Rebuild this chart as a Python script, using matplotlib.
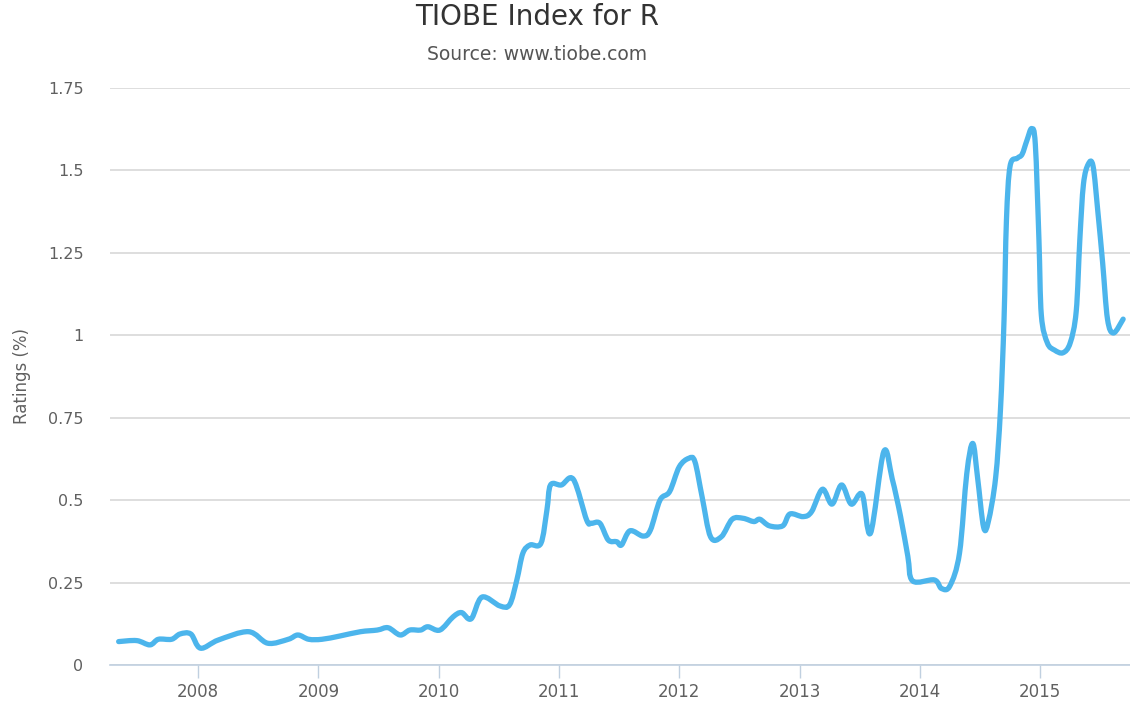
import matplotlib
matplotlib.use("Agg")
import matplotlib.pyplot as plt
from matplotlib.path import Path
from matplotlib.patches import PathPatch
import numpy as np

# TIOBE ratings for R (decimal year, %)
years = [2007.34, 2007.49, 2007.60, 2007.67, 2007.78, 2007.85, 2007.94, 2008.02,
         2008.17, 2008.42, 2008.58, 2008.75, 2008.83, 2008.92, 2009.03, 2009.18,
         2009.35, 2009.49, 2009.58, 2009.68, 2009.76, 2009.85, 2009.91, 2010.01,
         2010.12, 2010.19, 2010.27, 2010.36, 2010.51, 2010.59, 2010.65, 2010.70,
         2010.76, 2010.85, 2010.90, 2010.93, 2011.02, 2011.12, 2011.23, 2011.27,
         2011.34, 2011.41, 2011.48, 2011.52, 2011.59, 2011.70, 2011.76, 2011.84,
         2011.92, 2012.00, 2012.08, 2012.13, 2012.19, 2012.26, 2012.35, 2012.44,
         2012.53, 2012.62, 2012.67, 2012.75, 2012.86, 2012.92, 2013.03, 2013.10,
         2013.19, 2013.27, 2013.35, 2013.43, 2013.52, 2013.59, 2013.70, 2013.77,
         2013.84, 2013.90, 2013.94, 2014.12, 2014.18, 2014.25, 2014.33, 2014.39,
         2014.44, 2014.48, 2014.53, 2014.57, 2014.63, 2014.67, 2014.70, 2014.72,
         2014.75, 2014.81, 2014.85, 2014.89, 2014.93, 2014.96, 2014.99, 2015.01,
         2015.06, 2015.12, 2015.19, 2015.25, 2015.30, 2015.33, 2015.36, 2015.40,
         2015.44, 2015.48, 2015.52, 2015.56, 2015.61, 2015.69]
ratings = [0.071, 0.074, 0.061, 0.078, 0.078, 0.094, 0.094, 0.051,
           0.076, 0.101, 0.066, 0.078, 0.091, 0.078, 0.078, 0.088,
           0.101, 0.106, 0.113, 0.091, 0.106, 0.106, 0.116, 0.106,
           0.146, 0.159, 0.140, 0.206, 0.179, 0.183, 0.258, 0.339,
           0.364, 0.369, 0.470, 0.546, 0.546, 0.563, 0.440, 0.430,
           0.430, 0.379, 0.374, 0.364, 0.407, 0.391, 0.409, 0.500,
           0.526, 0.601, 0.627, 0.617, 0.510, 0.389, 0.389, 0.442,
           0.445, 0.435, 0.442, 0.422, 0.422, 0.458, 0.450, 0.465,
           0.533, 0.488, 0.546, 0.488, 0.518, 0.400, 0.647, 0.565,
           0.450, 0.330, 0.255, 0.258, 0.232, 0.240, 0.340, 0.580,
           0.672, 0.568, 0.418, 0.436, 0.568, 0.773, 1.049, 1.350,
           1.513, 1.537, 1.549, 1.591, 1.627, 1.579, 1.290, 1.061,
           0.977, 0.955, 0.947, 0.977, 1.073, 1.290, 1.458, 1.519,
           1.513, 1.374, 1.218, 1.049, 1.007, 1.049]

year_ticks = [2008, 2009, 2010, 2011, 2012, 2013, 2014, 2015]
rating_ticks = [0, 0.25, 0.5, 0.75, 1, 1.25, 1.5, 1.75]
rating_labels = ["0", "0.25", "0.5", "0.75", "1", "1.25", "1.5", "1.75"]

LINE = "#4cb5ec"
TEXT = "#606060"


def spline_path(x, y):
    # smooth curve through the points (catmull-rom as cubic bezier segments)
    pts = np.column_stack([x, y])
    verts = [pts[0]]
    codes = [Path.MOVETO]
    n = len(pts)
    for i in range(n - 1):
        p0 = pts[max(i - 1, 0)]
        p1 = pts[i]
        p2 = pts[i + 1]
        p3 = pts[min(i + 2, n - 1)]
        c1 = p1 + (p2 - p0) / 6.0
        c2 = p2 - (p3 - p1) / 6.0
        verts += [c1, c2, p2]
        codes += [Path.CURVE4] * 3
    return Path(verts, codes)


fig = plt.figure(figsize=(11.3, 7.02), dpi=100)
ax = fig.add_axes([110 / 1130, 1 - 665 / 702, 1020 / 1130, 577 / 702])

ax.set_xlim(2007.268, 2015.747)
ax.set_ylim(0, 1.75)

ax.add_patch(PathPatch(spline_path(years, ratings), fill=False, edgecolor=LINE,
                       linewidth=3.8, capstyle="round", joinstyle="round", zorder=3))

ax.set_yticks(rating_ticks)
ax.set_yticklabels(rating_labels)
ax.set_xticks(year_ticks)
ax.set_xticklabels([str(y) for y in year_ticks])

ax.grid(axis="y", color="#d8d8d8", linewidth=1.2)
ax.set_axisbelow(True)
for s in ["top", "right", "left"]:
    ax.spines[s].set_visible(False)
ax.spines["bottom"].set_color("#c0d0e0")
ax.spines["bottom"].set_linewidth(1.2)

ax.tick_params(axis="y", length=0, pad=19, labelsize=11.5, labelcolor=TEXT)
ax.tick_params(axis="x", length=9, width=1, color="#c0d0e0", pad=4,
               labelsize=12, labelcolor=TEXT)

ax.set_ylabel("Ratings (%)", fontsize=12, color=TEXT, labelpad=12)

fig.text(537 / 1130, 1 - 17 / 702, "TIOBE Index for R", ha="center", va="center",
         fontsize=20, color="#333333")
fig.text(537 / 1130, 1 - 54 / 702, "Source: www.tiobe.com", ha="center", va="center",
         fontsize=13.5, color="#555555")

fig.savefig("out.png", dpi=100)
